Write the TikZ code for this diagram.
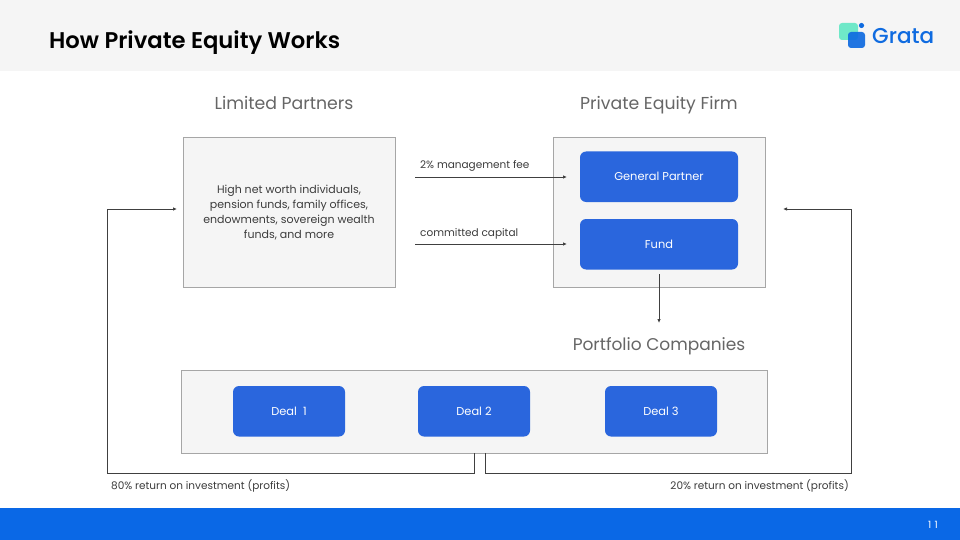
\documentclass[tikz,border=0pt]{standalone}
\usepackage{fontspec}
\setmainfont{Poppins}
\usetikzlibrary{arrows.meta}
\definecolor{hdr}{HTML}{F5F5F5}
\definecolor{boxfill}{HTML}{F5F5F5}
\definecolor{boxline}{HTML}{A6A6A6}
\definecolor{deal}{HTML}{2A66DD}
\definecolor{band}{HTML}{0A68E6}
\definecolor{ink}{HTML}{3C3C3C}
\definecolor{head}{HTML}{666666}
\definecolor{logoa}{HTML}{6FE8C8}
\definecolor{logob}{HTML}{0F6BE0}
\tikzset{
  x=1pt,y=-1pt,
  panel/.style={draw=boxline,line width=1pt,fill=boxfill,minimum width=#1,inner sep=0pt,anchor=north west},
  dealbox/.style={fill=deal,rounded corners=6pt,text=white,minimum width=112pt,minimum height=50.5pt,inner sep=0pt,font=\fontsize{11.4}{13}\selectfont},
  widebox/.style={dealbox,minimum width=158pt},
  heading/.style={text=head,anchor=base,inner sep=0pt},
  small/.style={text=ink,font=\fontsize{10.5}{12}\selectfont,inner sep=0pt},
  conn/.style={draw=black!75,line width=0.9pt,-{Latex[length=4pt,width=3.5pt]}},
}
\begin{document}
\begin{tikzpicture}
\useasboundingbox (0,0) rectangle (960,540);
\fill[white] (0,0) rectangle (960,540);
\fill[hdr] (0,0) rectangle (960,71);
\fill[band] (0,508) rectangle (960,540);
\node[anchor=base west,inner sep=0pt,font=\fontsize{22.7}{26}\selectfont\fontspec{Poppins SemiBold},text=black] (title) at (49,48.5) {How Private Equity Works};
\node[anchor=east,inner sep=0pt,text=white,font=\fontsize{10}{12}\selectfont] (pageno) at (938,525) {1\,\,1};
% logo
\fill[logoa,rounded corners=3pt] (839,23) rectangle (858,40);
\fill[logob,opacity=.92,rounded corners=3pt] (848,32) rectangle (865,48);
\fill[logob] (861.5,25.5) circle (2.6);
\node[anchor=base west,inner sep=0pt,text=logob,font=\fontsize{21.5}{24}\selectfont\fontspec{Poppins Medium}] (logo) at (872,43.5) {Grata};
% headings
\node[heading,font=\fontsize{17.3}{20}\selectfont] (hlp) at (284,110) {Limited Partners};
\node[heading,font=\fontsize{17.3}{20}\selectfont] (hpe) at (659,110) {Private Equity Firm};
\node[heading,font=\fontsize{17}{20}\selectfont] (hpc) at (659,350) {Portfolio Companies};
% panels
\node[panel=212pt,minimum height=150pt] (lp) at (182.7,136.7) {};
\node[text=ink,align=center,inner sep=0pt,font=\fontsize{11}{15}\selectfont] (lptext) at (289,212.5) {High net worth individuals,\\pension funds, family offices,\\endowments, sovereign wealth\\funds, and more};
\node[panel=212pt,minimum height=150pt] (pe) at (553.2,136.7) {};
\node[panel=585.5pt,minimum height=83pt] (pc) at (181,369.7) {};
% blue boxes
\node[widebox] (gp) at (659,176.75) {General Partner};
\node[widebox] (fund) at (659,244.25) {Fund};
\node[dealbox] (d1) at (289,411.25) {Deal\ \ 1};
\node[dealbox] (d2) at (474,411.25) {Deal 2};
\node[dealbox] (d3) at (661,411.25) {Deal 3};
% free ends
\coordinate (feeS) at (415,177);
\coordinate (feeE) at (567,177);
\coordinate (capS) at (415,244);
\coordinate (capE) at (567,244);
\coordinate (fundS) at (659,274);
\coordinate (fundE) at (659,323);
\coordinate (lS) at (474.5,453);
\coordinate (lA) at (474.5,473.5);
\coordinate (lB) at (107.7,473.5);
\coordinate (lC) at (107.7,209);
\coordinate (lE) at (177,209);
\coordinate (rS) at (485.5,453);
\coordinate (rA) at (485.5,473.5);
\coordinate (rB) at (851,473.5);
\coordinate (rC) at (851,209);
\coordinate (rE) at (783,209);
\draw[conn] (feeS) -- (feeE);
\draw[conn] (capS) -- (capE);
\draw[conn] (fundS) -- (fundE);
\draw[conn] (lS) -- (lA) -- (lB) -- (lC) -- (lE);
\draw[conn] (rS) -- (rA) -- (rB) -- (rC) -- (rE);
% labels
\node[small,anchor=base west] (lfee) at (420,168) {2\% management fee};
\node[small,anchor=base west] (lcap) at (420,236) {committed capital};
\node[small,anchor=base west] (l80) at (111,489) {80\% return on investment (profits)};
\node[small,anchor=base east] (l20) at (849,489) {20\% return on investment (profits)};
\end{tikzpicture}
\end{document}
